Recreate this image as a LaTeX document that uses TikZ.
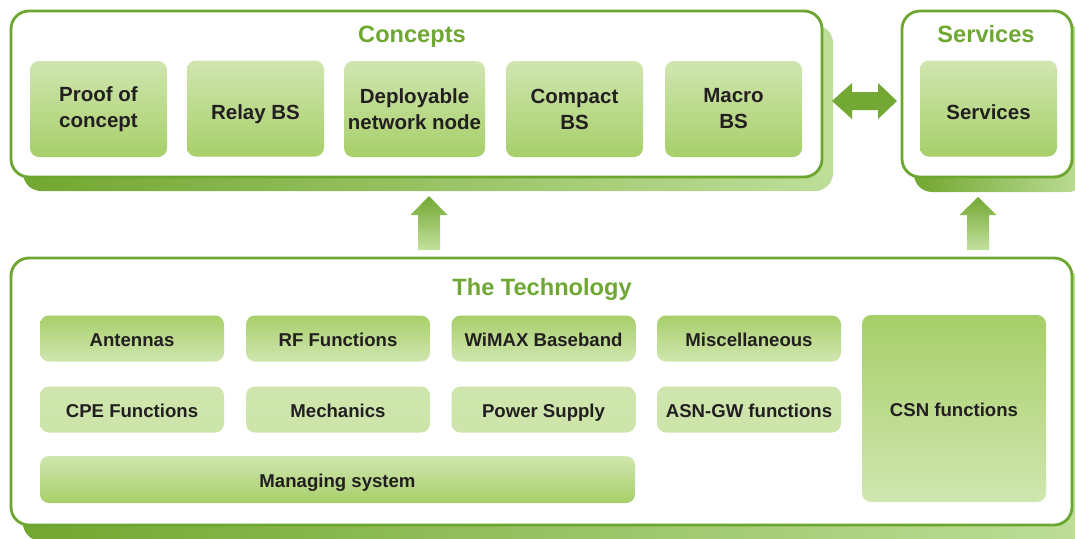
\documentclass[tikz,border=0pt]{standalone}
\usepackage{fontspec}
\setmainfont{Liberation Sans}
\definecolor{frameG}{HTML}{6CA631}
\definecolor{titleG}{HTML}{6FA733}
\definecolor{shadD}{HTML}{72A730}
\definecolor{shadL}{HTML}{BEDE99}
\definecolor{boxL}{HTML}{D0E6B0}
\definecolor{boxD}{HTML}{A7CF69}
\definecolor{arrD}{HTML}{74A832}
\definecolor{arrL}{HTML}{C2E19E}
\definecolor{arrS}{HTML}{72A833}
\definecolor{txt}{HTML}{231F20}
\tikzset{
  frame/.style={draw=frameG, line width=2.8pt, fill=white, rounded corners=18pt, inner sep=0pt},
  shadowshape/.style={left color=shadD, right color=shadL, rounded corners=18pt},
  ttl/.style={text=titleG, font=\fontsize{23.6}{28}\selectfont\bfseries, inner sep=0pt, anchor=base},
  cbox/.style={rounded corners=9pt, top color=boxL, bottom color=boxD, inner sep=0pt,
    minimum width=137pt, minimum height=96pt, align=center, text=txt,
    font=\fontsize{20.5}{26}\selectfont\bfseries},
  cone/.style={text height=22.7pt, text depth=0pt},
  tbox/.style={rounded corners=9pt, inner sep=0pt, minimum width=184pt, minimum height=46pt,
    align=center, text=txt, font=\fontsize{18.6}{22}\selectfont\bfseries,
    text height=16.3pt, text depth=0pt},
  rowA/.style={top color=boxD, bottom color=boxL},
  rowB/.style={top color=boxL!96!boxD, bottom color=boxL!92!boxD},
  rowC/.style={top color=boxL, bottom color=boxD},
  blockarrow/.style={top color=arrD, bottom color=arrL},
}
\begin{document}
\begin{tikzpicture}[x=1pt,y=-1pt]
\useasboundingbox (0,0) rectangle (1075,538);
\clip (0,0) rectangle (1075,538);
% shadows
\shade[shadowshape] (23,25) rectangle (833,191);
\shade[shadowshape] (914,25) rectangle (1086,192);
\shade[shadowshape] (23,272) rectangle (1086,541);
% frames
\node[frame, minimum width=811pt, minimum height=166pt] (concepts) at (416.5,94) {};
\node[frame, minimum width=170pt, minimum height=166pt] (services) at (987,94) {};
\node[frame, minimum width=1061pt, minimum height=267pt] (tech) at (541.5,391.5) {};
% titles
\node[ttl] (tconcepts) at (412,42.5) {Concepts};
\node[ttl] (tservices) at (986,42.5) {Services};
\node[ttl] (ttech) at (542,295.5) {The Technology};
% concept boxes
\node[cbox] (poc) at (98.5,109) {Proof of\\concept};
\node[cbox, cone] (relay) at (255.5,108.5) {Relay BS};
\node[cbox, minimum width=141pt] (deploy) at (414.5,109) {Deployable\\network node};
\node[cbox] (compact) at (574.5,109) {Compact\\BS};
\node[cbox] (macro) at (733.5,109) {Macro\\BS};
\node[cbox, cone] (serv) at (988.5,108.5) {Services};
% technology boxes
\node[tbox, rowA] (ant) at (132,338.5) {Antennas};
\node[tbox, rowA] (rf) at (338,338.5) {RF Functions};
\node[tbox, rowA] (wimax) at (543.5,338.5) {WiMAX Baseband};
\node[tbox, rowA] (misc) at (749,338.5) {Miscellaneous};
\node[tbox, rowB] (cpe) at (132,409.5) {CPE Functions};
\node[tbox, rowB] (mech) at (338,409.5) {Mechanics};
\node[tbox, rowB] (power) at (543.5,409.5) {Power Supply};
\node[tbox, rowB] (asn) at (749,409.5) {ASN-GW functions};
\node[tbox, rowC, minimum width=595pt, minimum height=47pt] (manage) at (337.5,479.5) {Managing system};
\node[tbox, rowA, minimum width=184pt, minimum height=187pt] (csn) at (954,408.5) {CSN functions};
% block arrows
\fill[arrS] (832,101) -- (852,83) -- (852,92) -- (878,92) -- (878,83) -- (897,101)
  -- (878,119) -- (878,110) -- (852,110) -- (852,119) -- cycle;
\shade[blockarrow] (429,196) -- (447.5,215) -- (440,215) -- (440,250) -- (418,250)
  -- (418,215) -- (410.5,215) -- cycle;
\shade[blockarrow] (978,197) -- (996.5,215) -- (989,215) -- (989,250) -- (967,250)
  -- (967,215) -- (959.5,215) -- cycle;
\end{tikzpicture}
\end{document}
